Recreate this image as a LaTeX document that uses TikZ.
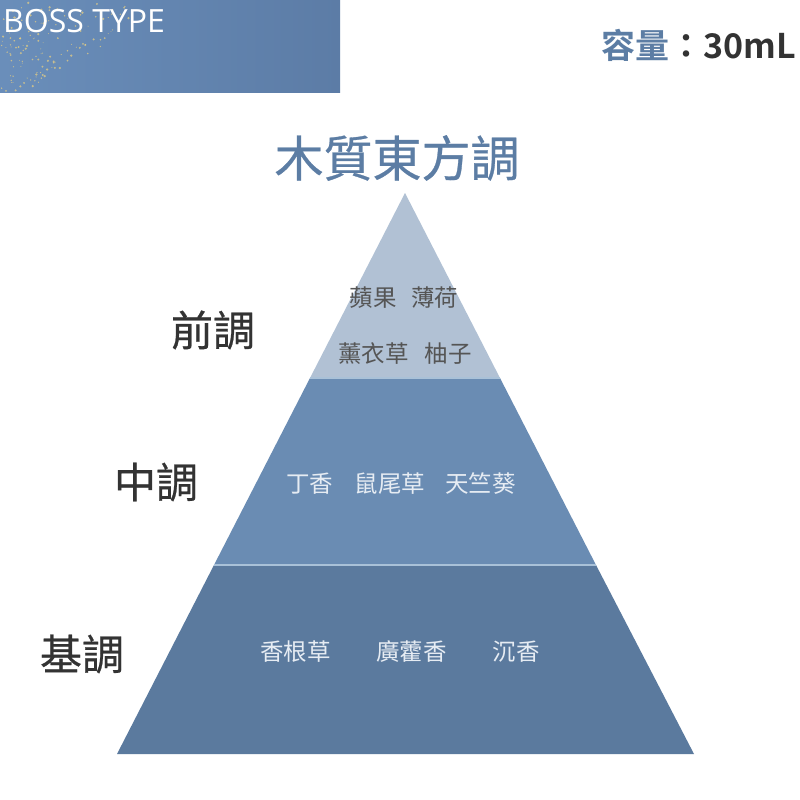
\documentclass[tikz,border=0pt]{standalone}
\usepackage{fontspec}
\setmainfont{Open Sans}
\newfontfamily\cjk{Noto Sans CJK TC}
\newfontfamily\cjkm{Noto Sans CJK TC}[FakeBold=0.6]
\newfontfamily\cjkb{Noto Sans CJK TC}[UprightFont=* Bold]
\definecolor{banner}{HTML}{6A8EBA}
\definecolor{bannerR}{HTML}{5C7CA6}
\definecolor{titleblue}{HTML}{5C7DA4}
\definecolor{tierA}{HTML}{B1C1D4}
\definecolor{tierB}{HTML}{6A8CB3}
\definecolor{tierC}{HTML}{5B7A9E}
\definecolor{divline}{HTML}{A9C1D8}
\definecolor{darktext}{HTML}{333333}
\definecolor{graytext}{HTML}{555555}
\definecolor{lighttext}{HTML}{E6ECF3}
\definecolor{gold}{HTML}{E3CD85}
\tikzset{
  side/.style={font=\cjkm\fontsize{42}{44}\selectfont, text=darktext, inner sep=0pt},
  note/.style={font=\cjk\fontsize{23.5}{26}\selectfont, inner sep=0pt},
}
\begin{document}
\begin{tikzpicture}[x=1pt,y=-1pt]
\useasboundingbox[fill=white] (0,0) rectangle (800,800);
% banner
\shade[left color=banner, right color=bannerR] (0,0) rectangle (340,92);
\pgfmathsetseed{7}
\foreach \i in {1,...,140}{
  \pgfmathsetmacro{\py}{92-abs(rnd)^0.8*90}
  \pgfmathsetmacro{\px}{abs(rnd)^1.3*(20+(92-\py)*1.6)+10*rnd}
  \pgfmathsetmacro{\pr}{0.4+abs(rnd)*0.9}
  \fill[gold, opacity=0.75] (\px,\py) circle (\pr);
}
\node[anchor=west, text=white, font=\fontsize{32}{33}\selectfont, inner sep=0pt] (brand) at (3,21) {BOSS TYPE};
% capacity
\node[anchor=east, inner sep=0pt, font=\cjkb\fontsize{34}{36}\selectfont] (cap) at (796,45) {\textcolor{titleblue}{容量}\textcolor{darktext}{：30mL}};
% title
\node[inner sep=0pt, text=titleblue, font=\cjkm\fontsize{49}{52}\selectfont] (title) at (397,158) {木質東方調};
% pyramid
\coordinate (apex) at (405,193);
\coordinate (a1) at (310,378);
\coordinate (a2) at (500,378);
\coordinate (b1) at (214,565);
\coordinate (b2) at (596,565);
\coordinate (c1) at (117,754);
\coordinate (c2) at (694,754);
\fill[tierA] (apex) -- (a2) -- (a1) -- cycle;
\fill[tierB] (a1) -- (a2) -- (b2) -- (b1) -- cycle;
\fill[tierC] (b1) -- (b2) -- (c2) -- (c1) -- cycle;
\draw[divline, line width=1.5pt] (a1) -- (a2);
\draw[divline, line width=1.2pt] (b1) -- (b2);
% tier labels
\node[side] (top) at (213,330) {前調};
\node[side] (mid) at (156,482) {中調};
\node[side] (base) at (82,654) {基調};
% notes
\node[note, text=graytext] (n1) at (404,298) {蘋果\hspace{0.6em}薄荷};
\node[note, text=graytext] (n2) at (405,354) {薰衣草\hspace{0.7em}柚子};
\node[note, text=lighttext] (n3) at (401,484) {丁香\hspace{0.9em}鼠尾草\hspace{0.85em}天竺葵};
\node[note, text=lighttext] (n4) at (400,652) {香根草\hspace{1.95em}廣藿香\hspace{1.95em}沉香};
\end{tikzpicture}
\end{document}
